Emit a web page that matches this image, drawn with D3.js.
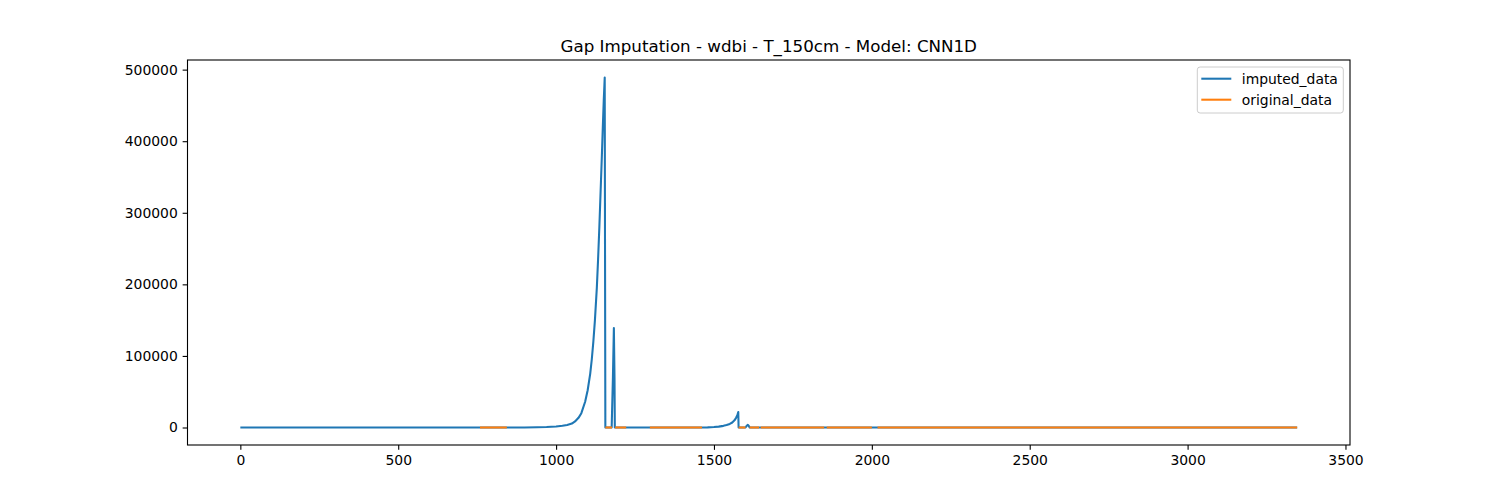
<!DOCTYPE html>
<html>
<head>
<meta charset="utf-8">
<script src="https://cdn.jsdelivr.net/npm/d3@7"></script>
<style>
  body { margin: 0; background: #fff; }
  text { font-family: "DejaVu Sans", sans-serif; }
</style>
</head>
<body>
<svg id="chart" width="1500" height="500"></svg>
<script>
// imputed series: sample index and value
var imputedIdx = [0, 300, 600, 900, 940, 970, 1000, 1020, 1035, 1050, 1060, 1071, 1080, 1092, 1100, 1108, 1113, 1118, 1123,
  1129, 1133, 1137, 1141, 1145, 1148, 1151, 1153, 1154, 1156,
  1176, 1180, 1183, 1185, 1186,
  1300, 1450, 1480, 1500, 1515, 1530, 1540, 1550, 1558, 1565, 1570, 1574, 1577, 1578,
  1600, 1604, 1607, 1610, 1613, 2000, 2018, 3347];
var imputedVal = [0, 0, 0, 0, 300, 700, 1400, 2400, 3600, 5500, 8500, 13500, 20000, 36000, 52000, 75000, 95000, 120000, 150000,
  195000, 235000, 280000, 330000, 380000, 420000, 458000, 478000, 489000, 0,
  0, 70000, 139000, 70000, 0,
  0, 0, 200, 600, 1200, 2300, 3400, 5000, 7000, 10000, 13500, 17000, 21500, 0,
  0, 2500, 3600, 2500, 0, 0, 0, 0];

// original data exists only in these index ranges (value ~0 at this scale)
var origStart = [759, 1156, 1187, 1297, 1578, 1613, 1648, 1857, 2018];
var origEnd   = [844, 1177, 1222, 1462, 1600, 1643, 1849, 2000, 3347];
var origVal   = [0, 0, 0, 0, 0, 0, 0, 0, 0];

var xTicks = [0, 500, 1000, 1500, 2000, 2500, 3000, 3500];
var yTicks = [0, 100000, 200000, 300000, 400000, 500000];

var seriesNames = ["imputed_data", "original_data"];
var colors = ["#1f77b4", "#ff7f0e"];

var svg = d3.select("#chart");
var axLeft = 187.5, axRight = 1350, axTop = 60, axBottom = 445;

// matplotlib style 5% margins
var xMin = d3.min(imputedIdx), xMax = d3.max(imputedIdx);
var yMin = d3.min(imputedVal), yMax = d3.max(imputedVal);
var xPad = (xMax - xMin) * 0.05, yPad = (yMax - yMin) * 0.05;

var x = d3.scaleLinear().domain([xMin - xPad, xMax + xPad]).range([axLeft, axRight]);
var y = d3.scaleLinear().domain([yMin - yPad, yMax + yPad]).range([axBottom, axTop]);

var imputed = imputedIdx.map((d, i) => [d, imputedVal[i]]);

var g = svg.append("g");
svg.append("clipPath").attr("id", "clip")
  .append("rect").attr("x", axLeft).attr("y", axTop).attr("width", axRight - axLeft).attr("height", axBottom - axTop);

var line = d3.line().x(d => x(d[0])).y(d => y(d[1]));

g.append("path")
  .datum(imputed)
  .attr("clip-path", "url(#clip)")
  .attr("d", line)
  .attr("fill", "none")
  .attr("stroke", colors[0])
  .attr("stroke-width", 2.08)
  .attr("stroke-linejoin", "round");

// original data segments on top
origStart.forEach((s, i) => {
  g.append("path")
    .datum([[s, origVal[i]], [origEnd[i], origVal[i]]])
    .attr("d", line)
    .attr("fill", "none")
    .attr("stroke", colors[1])
    .attr("stroke-width", 2.08);
});

// axes
var xAxis = d3.axisBottom(x).tickValues(xTicks).tickSize(4.86).tickPadding(4.86).tickFormat(d3.format("d"));
var yAxis = d3.axisLeft(y).tickValues(yTicks).tickSize(4.86).tickPadding(4.86).tickFormat(d3.format("d"));

var gx = svg.append("g").attr("transform", "translate(0," + axBottom + ")").call(xAxis);
var gy = svg.append("g").attr("transform", "translate(" + axLeft + ",0)").call(yAxis);
[gx, gy].forEach(a => {
  a.select(".domain").remove();
  a.selectAll(".tick line").attr("stroke", "#000").attr("stroke-width", 1.1);
  a.selectAll(".tick text").attr("fill", "#000").style("font-size", "13.9px").style("font-family", "DejaVu Sans");
});

// spines
svg.append("rect")
  .attr("x", axLeft).attr("y", axTop).attr("width", axRight - axLeft).attr("height", axBottom - axTop)
  .attr("fill", "none").attr("stroke", "#000").attr("stroke-width", 1.1);

// title
svg.append("text")
  .attr("x", (axLeft + axRight) / 2).attr("y", axTop - 8.3)
  .attr("text-anchor", "middle")
  .style("font-size", "16.7px")
  .text("Gap Imputation - wdbi - T_150cm - Model: CNN1D");

// legend
var lg = svg.append("g").attr("transform", "translate(1197.3,67)");
lg.append("rect").attr("width", 146).attr("height", 46).attr("rx", 2.8)
  .attr("fill", "#fff").attr("fill-opacity", 0.8).attr("stroke", "#cccccc").attr("stroke-width", 1);
seriesNames.forEach((name, i) => {
  var yy = 11.7 + i * 21;
  lg.append("line").attr("x1", 4).attr("x2", 34).attr("y1", yy).attr("y2", yy)
    .attr("stroke", colors[i]).attr("stroke-width", 2.08);
  lg.append("text").attr("x", 44.5).attr("y", yy).attr("dy", "0.35em")
    .style("font-size", "13.9px").text(name);
});
</script>
</body>
</html>
